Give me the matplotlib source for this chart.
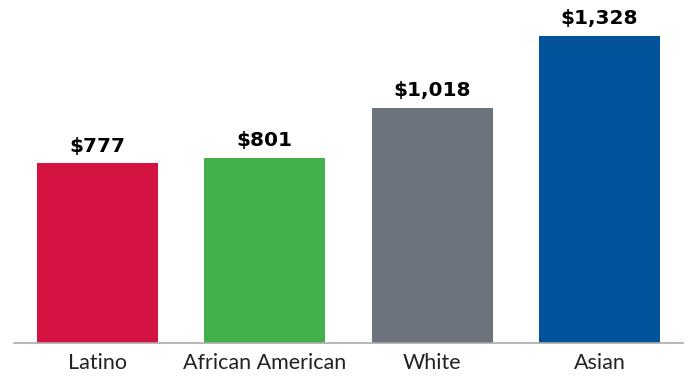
import matplotlib
matplotlib.use('Agg')
import matplotlib.pyplot as plt
import numpy as np

groups = ['Latino', 'African American', 'White', 'Asian']
weekly_earnings = [777, 801, 1018, 1328]
bar_colors = ['#D41342', '#43AF4B', '#6C737C', '#00529B']

fig = plt.figure(figsize=(6.89, 3.77), dpi=100)
ax = fig.add_axes([14/689, 34/377, 669/689, 343/377])

x = np.arange(len(groups))
bars = ax.bar(x, weekly_earnings, width=0.723, color=bar_colors, zorder=2)

# dollar labels above each bar
for b, v in zip(bars, weekly_earnings):
    ax.annotate('${:,}'.format(v), (b.get_x() + b.get_width() / 2, v),
                xytext=(0, 5.5), textcoords='offset points',
                ha='center', va='bottom', fontsize=14.5, fontweight='bold',
                family='DejaVu Sans', color='black')

ax.set_xlim(-0.5, 3.5)
ax.set_ylim(0, 1484)
ax.set_xticks(x)
ax.set_xticklabels(groups, fontsize=15.5, family='Lato', color='#222222')
ax.tick_params(axis='x', length=0, pad=7)
ax.set_yticks([])

for s in ['top', 'right', 'left']:
    ax.spines[s].set_visible(False)
ax.spines['bottom'].set_color('#AAAAAA')
ax.spines['bottom'].set_linewidth(1.2)

fig.savefig('out.png', dpi=100)
